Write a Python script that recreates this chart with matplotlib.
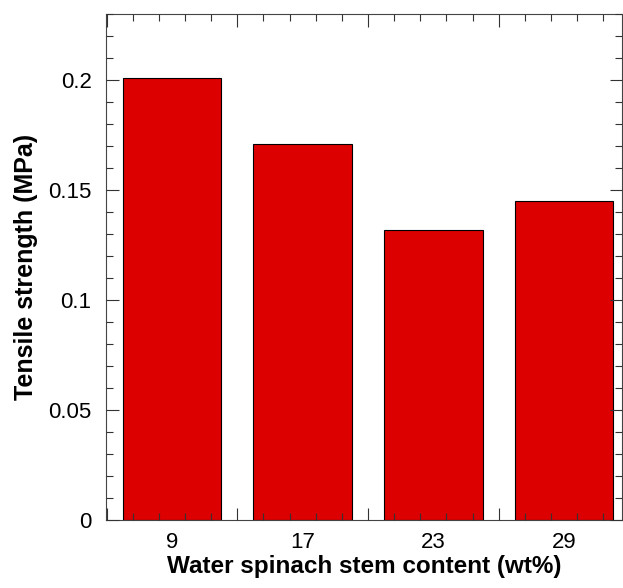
import matplotlib
matplotlib.use("Agg")
import matplotlib.pyplot as plt
from matplotlib.ticker import MultipleLocator, FixedLocator

plt.rcParams['font.family'] = ['Liberation Sans', 'DejaVu Sans']

# datos
content = ["9", "17", "23", "29"]
strength = [0.201, 0.171, 0.132, 0.145]
ytick_vals = [0, 0.05, 0.1, 0.15, 0.2]
ytick_labels = ["0", "0.05", "0.1", "0.15", "0.2"]

fig = plt.figure(figsize=(6.23, 5.88), dpi=100)
ax = fig.add_axes([0.170, 0.1156, 0.8284, 0.8606])

pos = range(len(content))
ax.bar(pos, strength, width=0.755, color="#dd0000", edgecolor="black", linewidth=0.8, zorder=1)

ax.set_xlim(-0.505, 3.443)
ax.set_ylim(0, 0.23)

# ticks mayores entre barras, etiquetas en el centro
ax.xaxis.set_major_locator(FixedLocator([-0.5, 0.5, 1.5, 2.5]))
ax.xaxis.set_minor_locator(MultipleLocator(0.2, offset=0.1))
ax.set_xticklabels([])
for p, c in zip(pos, content):
    ax.annotate(c, xy=(p, 0), xycoords=("data", "axes fraction"),
                xytext=(0, -8.5), textcoords="offset points",
                ha="center", va="top", fontsize=16)

ax.set_yticks(ytick_vals)
ax.set_yticklabels(ytick_labels, fontsize=16)
ax.yaxis.set_minor_locator(MultipleLocator(0.01))

ax.tick_params(which="both", direction="in", top=True, right=True, width=0.8, color="#333333")
ax.tick_params(which="major", length=9)
ax.tick_params(which="minor", length=5)
ax.tick_params(axis="y", pad=10.3)
for s in ax.spines.values():
    s.set_linewidth(0.8)
    s.set_color("#444444")
ax.set_axisbelow(False)

ax.set_xlabel("Water spinach stem content (wt%)", fontsize=17.5, fontweight="bold", va="baseline")
ax.set_ylabel("Tensile strength (MPa)", fontsize=18, fontweight="bold")
ax.xaxis.set_label_coords(0.5, -0.105)
ax.yaxis.set_label_coords(-0.132, 0.5)

fig.savefig("out.png", dpi=100)
